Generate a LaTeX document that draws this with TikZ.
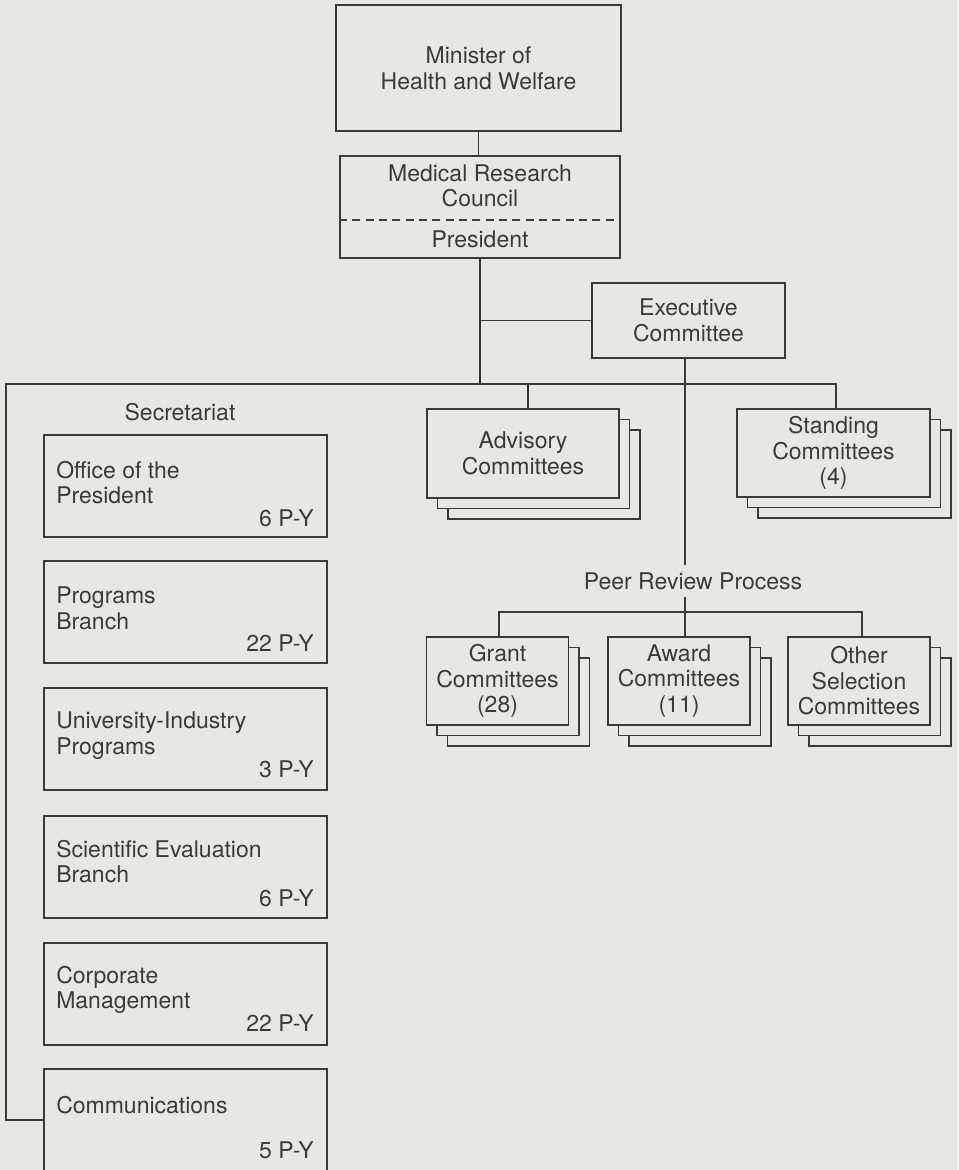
\documentclass[tikz,border=0pt]{standalone}
\usepackage{fontspec}
\setmainfont{TeX Gyre Heros}
\usetikzlibrary{shadows,calc}
\definecolor{bgc}{RGB}{232,232,227}
\definecolor{inkc}{RGB}{58,58,58}
\begin{document}
\begin{tikzpicture}[x=0.75pt,y=-0.75pt,
  font=\fontsize{17.25}{19.2}\selectfont,
  every node/.style={text=inkc},
  box/.style={draw=inkc, fill=bgc, line width=1.3pt, inner sep=0pt, align=center},
  conn/.style={draw=inkc, line width=1.3pt},
  stack/.style={box,
    copy shadow={shadow xshift=15.75pt, shadow yshift=-15.75pt, draw=inkc, fill=bgc, line width=1.3pt},
    copy shadow={shadow xshift=7.875pt, shadow yshift=-7.875pt, draw=inkc, fill=bgc, line width=1.3pt}},
  txt/.style={inner sep=0pt, align=left},
  lbox/.style={box, minimum width=212.25pt, minimum height=76.5pt}
]
\fill[bgc] (0,0) rectangle (958,1170);
\useasboundingbox (0,0) rectangle (958,1170);

% top
\node[box, minimum width=213.75pt, minimum height=94.5pt] (min) at (478.5,68) {Minister of\\Health and Welfare};
\node[box, minimum width=210pt, minimum height=76.5pt] (mrc) at (480,207) {};
\node[txt, align=center] (mrct) at (480,186) {Medical Research\\Council};
\node[txt] (pres) at (480,239) {President};
\coordinate (dashy) at (0,220);
\draw[conn, dash pattern=on 6pt off 4pt] (mrc.west |- dashy) -- (mrc.east |- dashy);

\node[box, minimum width=144.75pt, minimum height=56.25pt] (exec) at (688.5,320.5) {Executive\\Committee};

% committees
\node[stack, minimum width=144pt, minimum height=66.75pt] (adv) at (523,453.5) {Advisory\\Committees};
\node[stack, minimum width=144.75pt, minimum height=66pt] (stand) at (833.5,453) {Standing\\Committees\\(4)};
\node[txt, minimum height=24pt] (peer) at (693,581) {Peer Review Process};
\node[stack, minimum width=106.5pt, minimum height=66pt] (grant) at (497.5,681) {Grant\\Committees\\(28)};
\node[stack, minimum width=106.5pt, minimum height=66pt] (award) at (679,681) {Award\\Committees\\(11)};
\node[stack, minimum width=106.5pt, minimum height=66pt] (other) at (859,681) {Other\\Selection\\Committees};

% secretariat
\node[txt] (sec) at (180,412) {Secretariat};
\node[lbox] (b1) at (185.5,486) {};
\node[txt, anchor=west] (b1t) at (56,482.5) {Office of the\\President};
\node[txt, anchor=east] (b1n) at (314,518) {6 P-Y};
\node[lbox] (b2) at (185.5,612) {};
\node[txt, anchor=west] (b2t) at (56,608) {Programs\\Branch};
\node[txt, anchor=east] (b2n) at (314,643) {22 P-Y};
\node[lbox] (b3) at (185.5,739) {};
\node[txt, anchor=west] (b3t) at (56,735.5) {University-Industry\\Programs};
\node[txt, anchor=east] (b3n) at (314,769) {3 P-Y};
\node[lbox] (b4) at (185.5,867) {};
\node[txt, anchor=west] (b4t) at (56,861.5) {Scientific Evaluation\\Branch};
\node[txt, anchor=east] (b4n) at (314,898) {6 P-Y};
\node[lbox] (b5) at (185.5,994) {};
\node[txt, anchor=west] (b5t) at (56,990) {Corporate\\Management};
\node[txt, anchor=east] (b5n) at (314,1023) {22 P-Y};
\node[lbox] (b6) at (185.5,1120) {};
\node[txt, anchor=west] (b6t) at (56,1105) {Communications};
\node[txt, anchor=east] (b6n) at (314,1150) {5 P-Y};

% connectors
\coordinate (busL) at (6,384);
\coordinate (pby) at (0,612);
\coordinate (advtop) at ([xshift=3.75pt]adv.north);
\coordinate (stdtop) at ([xshift=1.9pt]stand.north);
\coordinate (ex) at ([xshift=-2.625pt]exec.south);
\coordinate (gtop) at ([xshift=1.1pt]grant.north);
\coordinate (otop) at ([xshift=2.25pt]other.north);

\draw[conn] (min.south) -- (min.south |- mrc.north);
\draw[conn] (mrc.south) -- (mrc.south |- busL);
\draw[conn] (exec.west) -- (exec.west -| mrc.south);
\draw[conn] (b6.west) -| (busL) -| (stdtop);
\draw[conn] (advtop) -- (advtop |- busL);
\draw[conn] (ex) -- (ex |- peer.north);
\draw[conn] (ex |- peer.south) -- (ex |- award.north);
\draw[conn] (gtop) |- (ex |- pby) -| (otop);
\end{tikzpicture}
\end{document}
